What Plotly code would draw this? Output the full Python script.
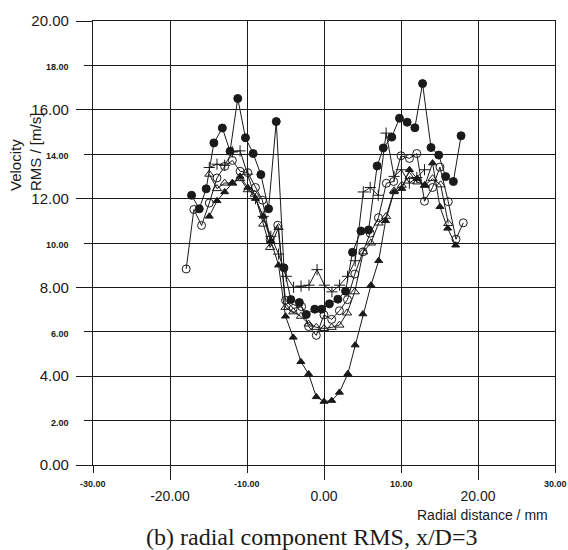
import plotly.graph_objects as go

# ---- data ----
fc_x = [-17.2,-16.2,-15.3,-14.3,-13.2,-12.2,-11.2,-10.2,-9.2,-8.2,-7.2,-6.2,-5.2,-4.3,-3.2,-2.3,-1.2,-0.3,0.7,1.8,2.8,3.7,4.8,5.8,6.9,7.7,8.8,9.8,10.8,11.8,12.8,13.9,14.9,15.8,16.8,17.8]
fc_y = [12.15,11.54,12.44,14.51,15.18,14.13,16.51,14.74,14.03,13.08,11.54,15.47,8.88,7.45,7.32,6.78,7.02,7.02,7.26,7.47,7.83,9.58,10.54,10.59,13.47,14.28,14.77,15.62,15.44,15.19,17.18,14.3,13.96,12.99,12.77,14.83]

oc_x = [-17.9,-16.9,-15.9,-14.9,-13.9,-12.9,-11.9,-10.9,-9.9,-8.9,-8.0,-7.0,-6.0,-5.0,-4.0,-2.9,-2.0,-1.0,0.0,1.0,2.0,3.05,4.0,5.05,6.0,7.07,8.1,9.05,10.0,11.1,12.05,13.05,14.1,15.06,16.14,17.14,18.09]
oc_y = [8.83,11.51,10.79,11.8,12.93,13.45,13.72,13.23,13.17,12.5,11.93,10.15,10.8,7.42,7.05,7.13,6.24,5.84,6.76,6.56,6.95,7.45,8.6,9.6,10.44,11.14,12.69,12.77,13.93,13.81,14.03,11.88,12.5,13.42,11.86,10.17,10.91]

pl_x = [-14.9,-13.9,-12.9,-11.9,-10.9,-9.9,-8.9,-7.9,-6.9,-5.9,-4.9,-3.95,-2.98,-1.95,-0.9,0.05,1.03,2.02,3.06,4.05,5.1,6.0,7.05,8.07,9.1,10.05,11.09,12.05,13.05]
pl_y = [13.4,13.55,13.5,14.1,14.15,13.1,12.0,11.2,10.3,9.5,8.5,8.0,8.06,8.1,8.8,8.1,7.8,8.1,8.5,9.2,12.3,12.5,12.15,14.95,13.0,13.3,12.7,12.95,13.3]

ot_x = [-14.9,-13.9,-12.9,-11.9,-10.9,-9.9,-9.0,-7.9,-7.0,-5.9,-5.0,-4.0,-3.0,-2.0,-1.0,0.0,1.0,2.0,3.0,4.0,5.1,6.1,7.1,8.07,9.1,10.1,11.1,12.1,13.1,14.1,15.15,16.14]
ot_y = [13.1,12.45,12.7,12.7,12.9,12.4,12.2,10.85,9.8,10.7,7.1,6.9,6.7,6.35,6.2,6.15,6.2,6.3,6.85,7.8,9.6,10.0,10.9,11.2,12.35,12.6,13.0,12.75,12.6,12.9,12.62,10.88]

ft_x = [-14.9,-13.9,-12.9,-11.9,-10.9,-9.9,-8.9,-7.9,-6.9,-5.9,-5.0,-4.0,-3.0,-2.0,-1.0,0.0,1.0,2.0,3.1,4.05,5.05,6.1,7.1,8.0,9.1,10.1,11.1,12.1,13.1,14.1,15.06,16.06,17.1]
ft_y = [11.2,11.9,12.3,12.7,13.0,12.5,12.0,11.2,10.1,9.0,6.7,5.75,4.65,4.1,3.07,2.86,2.9,3.27,4.11,5.4,6.8,8.1,9.2,11.0,12.3,12.45,13.3,12.9,12.6,13.6,11.63,10.66,9.9]

x_major_vals = [-20, 0, 20]
x_major_text = ["-20.00", "0.00", "20.00"]
x_minor_vals = [-30, -10, 10, 30]
x_minor_text = ["-30.00", "-10.00", "10.00", "30.00"]
y_major_vals = [0, 4, 8, 12, 16, 20]
y_major_text = ["0.00", "4.00", "8.00", "12.00", "16.00", "20.00"]
y_minor_vals = [2, 6, 10, 14, 18]
y_minor_text = ["2.00", "6.00", "10.00", "14.00", "18.00"]

INK = "#1a1a1a"
SANS = "Liberation Sans, Arial, sans-serif"

fig = go.Figure()

def add(x, y, symbol, size, name, lw=1.0):
    fig.add_trace(go.Scatter(
        x=x, y=y, mode="lines+markers", name=name,
        line=dict(color=INK, width=1),
        marker=dict(symbol=symbol, size=size, color=INK,
                    line=dict(color=INK, width=lw)),
    ))

add(ft_x, ft_y, "triangle-up", 7, "filled triangle")
add(ot_x, ot_y, "triangle-up-open", 8, "open triangle")
add(pl_x, pl_y, "cross-thin-open", 8, "plus")
add(oc_x, oc_y, "circle-open", 8, "open circle")
add(fc_x, fc_y, "circle", 8, "filled circle")

annotations = []
for v, t in zip(x_minor_vals, x_minor_text):
    annotations.append(dict(x=v, y=0, xref="x", yref="paper", text=t,
                            showarrow=False, yanchor="middle", yshift=-19,
                            font=dict(family=SANS, size=9, color=INK, weight="bold")))
for v, t in zip(y_minor_vals, y_minor_text):
    annotations.append(dict(x=0, y=v, xref="paper", yref="y", text=t,
                            showarrow=False, xanchor="right", xshift=-22, yshift=-2,
                            font=dict(family=SANS, size=9, color=INK, weight="bold")))

annotations.append(dict(x=0, y=1, xref="paper", yref="paper",
                        text="Velocity<br>RMS / [m/s]", textangle=-90,
                        showarrow=False, align="left",
                        xanchor="center", yanchor="middle",
                        xshift=-68, yshift=-131,
                        font=dict(family=SANS, size=15, color=INK)))
annotations.append(dict(x=1, y=0, xref="paper", yref="paper",
                        text="Radial distance / mm", showarrow=False,
                        xanchor="right", yanchor="middle", xshift=-5, yshift=-50,
                        font=dict(family=SANS, size=14, color=INK)))
annotations.append(dict(x=0.5, y=0, xref="paper", yref="paper",
                        text="(b) radial component RMS, x/D=3", showarrow=False,
                        xanchor="center", yanchor="middle", xshift=-12, yshift=-72,
                        font=dict(family="Liberation Serif, Times New Roman, serif", size=24, color=INK)))

fig.update_layout(
    width=568, height=550,
    margin=dict(l=93, r=12, t=16, b=85),
    paper_bgcolor="white", plot_bgcolor="white",
    showlegend=False,
    annotations=annotations,
    xaxis=dict(
        range=[-30, 30], showline=True, mirror=True, linecolor=INK, linewidth=1.2,
        tickmode="array", tickvals=x_major_vals, ticktext=x_major_text,
        ticks="outside", ticklen=14, tickcolor=INK, tickwidth=1.2,
        ticklabelstandoff=4,
        tickfont=dict(family=SANS, size=14, color=INK),
        showgrid=True, gridcolor=INK, gridwidth=1.2, zeroline=False,
        minor=dict(tickvals=x_minor_vals, ticks="outside", ticklen=7,
                   tickcolor=INK, tickwidth=1.2, showgrid=True,
                   gridcolor=INK, gridwidth=1.2),
    ),
    yaxis=dict(
        range=[0, 20], showline=True, mirror=True, linecolor=INK, linewidth=1.2,
        tickmode="array", tickvals=y_major_vals, ticktext=y_major_text,
        ticks="outside", ticklen=16, tickcolor=INK, tickwidth=1.2,
        ticklabelstandoff=4,
        tickfont=dict(family=SANS, size=15, color=INK),
        showgrid=True, gridcolor=INK, gridwidth=1.2, zeroline=False,
        minor=dict(tickvals=y_minor_vals, ticks="outside", ticklen=8,
                   tickcolor=INK, tickwidth=1.2, showgrid=True,
                   gridcolor=INK, gridwidth=1.2),
    ),
)

fig.write_html("out.html", config={"displayModeBar": False},
               post_script="document.body.style.margin='0';")
